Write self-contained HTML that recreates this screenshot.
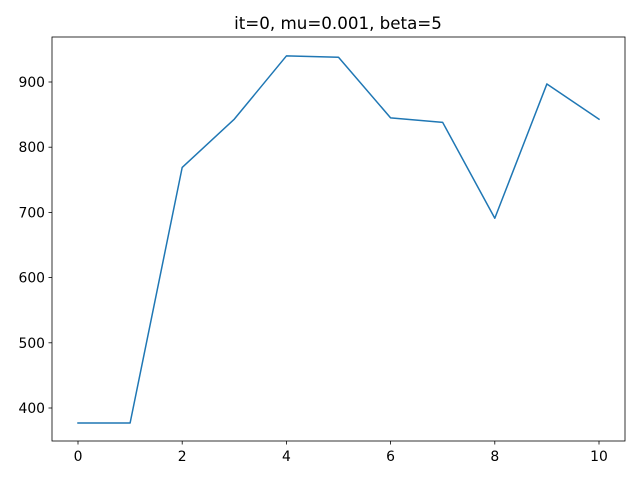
<!DOCTYPE html>
<html><head><meta charset="utf-8"><style>
body{margin:0;background:#fff;}
svg text{font-family:"DejaVu Sans","Liberation Sans",sans-serif;fill:#000;}
</style></head><body>
<svg id="chart" width="640" height="480" xmlns="http://www.w3.org/2000/svg">
<rect width="640" height="480" fill="#fff"/>
<text x="338" y="29" font-size="16.7" text-anchor="middle">it=0, mu=0.001, beta=5</text>
<g id="axes"></g>
</svg>
<script>
const xValues=[0,1,2,3,4,5,6,7,8,9,10];
const yValues=[377,377,769,843,940,938,845,838,691,897,843];
const xTicks=[0,2,4,6,8,10];
const yTicks=[400,500,600,700,800,900];
const L=52,R=625,T=37,B=441;
function sx(v){return 78+(v-0)*(599-78)/10;}
function sy(v){return 408-(v-400)*(408-82)/500;}
const NS="http://www.w3.org/2000/svg";
const g=document.getElementById('axes');
function el(t,a){const e=document.createElementNS(NS,t);for(const k in a)e.setAttribute(k,a[k]);g.appendChild(e);return e;}
let pts=xValues.map((x,i)=>sx(x)+','+sy(yValues[i])).join(' ');
const line=el('polyline',{points:pts,fill:'none',stroke:'#1f77b4','stroke-width':1.5,'stroke-linejoin':'round','stroke-linecap':'square'});


xTicks.forEach(t=>{
 const x=sx(t);
 el('line',{x1:x,x2:x,y1:B,y2:B+3.5,stroke:'#000','stroke-width':0.8});
 const tx=el('text',{x:x,y:B+20,'font-size':13.9,'text-anchor':'middle'});
 tx.textContent=t;
 
 
});
yTicks.forEach(t=>{
 const y=sy(t);
 el('line',{x1:L,x2:L-3.5,y1:y,y2:y,stroke:'#000','stroke-width':0.8});
 const tx=el('text',{x:L-7,y:y+5,'font-size':13.9,'text-anchor':'end'});
 tx.textContent=t;
 
 
});
const fr=el('rect',{x:L,y:T,width:R-L,height:B-T,fill:'none',stroke:'#000','stroke-width':0.8});


</script>
</body></html>
